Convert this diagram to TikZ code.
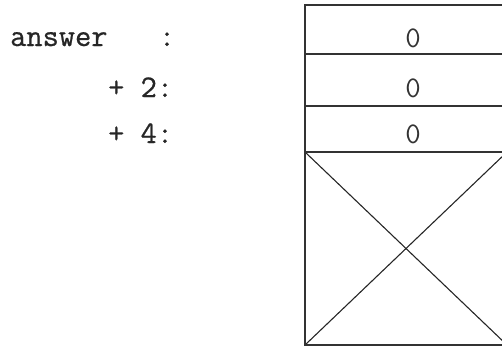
\documentclass[tikz,border=0pt]{standalone}
\usepackage{fontspec}
\newfontfamily\lblfont{Latin Modern Mono}[FakeBold=0.7]
\begin{document}
\begin{tikzpicture}[x=1pt,y=-1pt,
  lbl/.style={inner sep=0pt,font=\lblfont\fontsize{31.5}{31.5}\selectfont,text=black!85},
  val/.style={inner sep=0pt,anchor=base,font=\ttfamily\fontsize{30}{30}\selectfont,text=black!80},
  cell/.style={draw=black!80,line width=1.6pt},
  cross/.style={draw=black!85,line width=1.1pt}]
\useasboundingbox (0,0) rectangle (502,349);
% labels
\node[lbl,anchor=base west] (ans) at (10,46) {answer};
\node[lbl,anchor=base] (col) at (167,46) {:};
\node[lbl,anchor=base west] (p2) at (108,97) {+ 2:};
\node[lbl,anchor=base west] (p4) at (108,143) {+ 4:};
% box corners
\coordinate (tl) at (305,5);
\coordinate (tr) at (507,5);
\coordinate (l1) at (305,54);
\coordinate (r1) at (507,54);
\coordinate (l2) at (305,106);
\coordinate (r2) at (507,106);
\coordinate (l3) at (305,152);
\coordinate (r3) at (507,152);
\coordinate (bl) at (305,345);
\coordinate (br) at (507,345);
\draw[cross] (l3) -- (br);
\draw[cross] (bl) -- (r3);
\draw[cell] (tl) rectangle (br);
\draw[cell] (l1) -- (r1);
\draw[cell] (l2) -- (r2);
\draw[cell] (l3) -- (r3);
% values
\node[val] (v0) at (413,47) {0};
\node[val] (v2) at (413,97) {0};
\node[val] (v4) at (413,143) {0};
\end{tikzpicture}
\end{document}
